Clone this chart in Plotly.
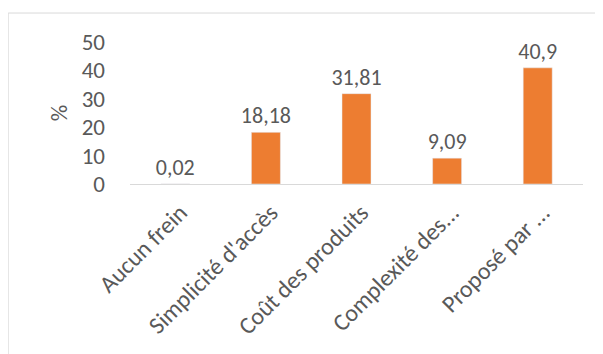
import plotly.graph_objects as go

categories = [
    "Aucun frein",
    "Simplicité d'accès",
    "Coût des produits",
    "Complexité des...",
    "Proposé par ...",
]
values = [0.02, 18.18, 31.81, 9.09, 40.9]
labels = [str(v).replace(".", ",") for v in values]

grey = "#595959"
axis_font = dict(family="Carlito, Lato, sans-serif", size=23, color=grey)
tick_font = dict(family="Carlito, Lato, sans-serif", size=24, color=grey)
label_font = dict(family="Carlito, Lato, sans-serif", size=22, color=grey)

fig = go.Figure(
    go.Bar(
        x=categories,
        y=values,
        text=labels,
        textposition="outside",
        constraintext="none",
        textfont=label_font,
        marker=dict(color="#ED7D31"),
        cliponaxis=False,
    )
)

# page body has an 8px margin, so margins are offset to land the plot area right
fig.update_layout(
    width=603,
    height=354,
    margin=dict(l=122, r=28, t=34, b=178),
    paper_bgcolor="white",
    plot_bgcolor="white",
    font=axis_font,
    bargap=0.68,
    showlegend=False,
    shapes=[
        dict(
            type="rect",
            xref="paper",
            yref="paper",
            x0=-0.269,
            x1=1.1,
            y0=-1.3,
            y1=1.204,
            line=dict(color="#D9D9D9", width=1),
            layer="below",
        )
    ],
)
fig.update_xaxes(
    tickangle=-45,
    showline=True,
    linecolor="#D9D9D9",
    linewidth=1,
    showgrid=False,
    tickfont=tick_font,
    automargin=False,
    ticklabelstandoff=4,
    ticklabelshift=5,
)
fig.update_yaxes(
    range=[0, 50],
    dtick=10,
    showgrid=False,
    zeroline=False,
    automargin=False,
    ticklabelstandoff=24,
    tickfont=axis_font,
    title=dict(text="%", font=axis_font, standoff=7),
)

fig.write_html("out.html")
